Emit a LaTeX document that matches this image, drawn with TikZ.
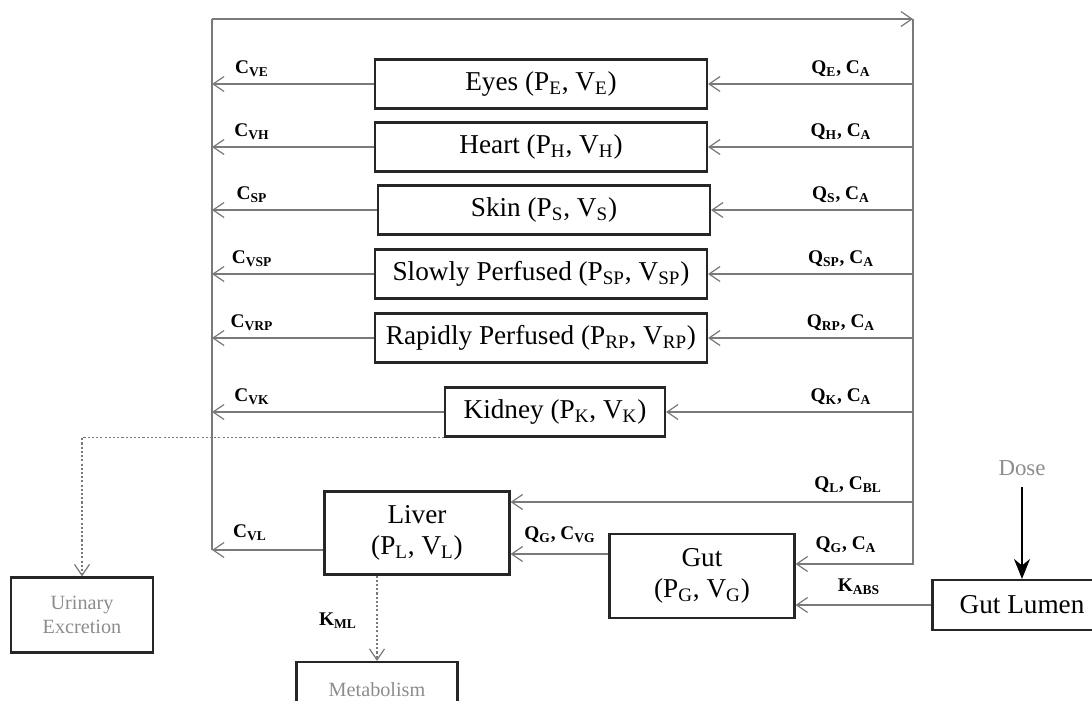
\documentclass[tikz,border=0pt]{standalone}
\usepackage{fontspec}
\setmainfont{Liberation Serif}
\usepackage{tikz}
\usetikzlibrary{calc,arrows.meta,positioning}
\definecolor{flowg}{HTML}{7A7A7A}
\definecolor{boxk}{HTML}{262626}
\definecolor{textg}{HTML}{8C8C8C}
\newcommand{\sbs}[1]{\textsubscript{#1}}
\tikzset{
  ar/.style={-{Straight Barb[length=2.2mm,width=3mm]},line width=0.7pt,flowg},
  dotflow/.style={ar,dash pattern=on 1.2pt off 1.2pt},
  organ/.style={draw=boxk,line width=1.2pt,minimum height=0.98cm,inner sep=2pt,align=center,font=\fontsize{15.5}{17.5}\selectfont},
  sink/.style={organ,text=textg,font=\fontsize{11.5}{13.5}\selectfont},
  lab/.style={font=\fontsize{11}{12}\selectfont\bfseries,inner sep=1pt}
}
\begin{document}
\begin{tikzpicture}[x=0.02cm,y=-0.02cm]
\useasboundingbox (0,0) rectangle (1092,700);
% compartments
\node[organ,minimum width=6.64cm] (eyes) at (541,84) {Eyes (P\sbs{E}, V\sbs{E})};
\node[organ,minimum width=6.64cm] (heart) at (541,147) {Heart (P\sbs{H}, V\sbs{H})};
\node[organ,minimum width=6.64cm] (skin) at (544,210) {Skin (P\sbs{S}, V\sbs{S})};
\node[organ,minimum width=6.64cm] (slow) at (541,274) {Slowly Perfused (P\sbs{SP}, V\sbs{SP})};
\node[organ,minimum width=6.64cm] (rapid) at (541,338) {Rapidly Perfused (P\sbs{RP}, V\sbs{RP})};
\node[organ,minimum width=4.4cm] (kidney) at (555,412) {Kidney (P\sbs{K}, V\sbs{K})};
\node[organ,minimum width=3.7cm,minimum height=1.66cm] (liver) at (417,533) {Liver\\(P\sbs{L}, V\sbs{L})};
\node[organ,minimum width=3.7cm,minimum height=1.68cm] (gut) at (702,576) {Gut\\(P\sbs{G}, V\sbs{G})};
\node[organ,minimum width=3.58cm,minimum height=1cm] (lumen) at (1022,605) {Gut Lumen};
\node[sink,minimum width=2.84cm,minimum height=1.5cm] (urine) at (82,615) {Urinary\\Excretion};
\node[sink,minimum width=3.22cm,minimum height=1.12cm] (metab) at (377,690) {Metabolism};
\node[text=textg,font=\fontsize{13}{15}\selectfont] (dose) at (1022,468) {Dose};
% blood lines
\coordinate (vtop) at (212,19);
\coordinate (vbot) at (212,550);
\coordinate (atop) at (913,19);
\coordinate (abot) at (913,564);
\draw[line width=0.7pt,flowg] (vbot) -- (vtop);
\draw[ar] (vtop) -- (atop);
\draw[ar] (atop) -- (abot) -- (abot -| gut.east);
\node[lab] (qga) at (846,545) {Q\sbs{G}, C\sbs{A}};
\foreach \o/\qin/\cout in {eyes/E/VE,heart/H/VH,skin/S/SP,slow/SP/VSP,rapid/RP/VRP,kidney/K/VK}{
  \draw[ar] (\o.east -| atop) -- (\o.east);
  \draw[ar] (\o.west) -- (\o.west -| vtop);
  \node[lab] (q\o) at ($(\o.east -| atop)+(-72,-15)$) {Q\sbs{\qin}, C\sbs{A}};
  \node[lab] (c\o) at ($(\o.west -| vtop)+(40,-15)$) {C\sbs{\cout}};
}
% liver and gut
\coordinate (qlin) at (913,502);
\coordinate (qgv) at (610,554);
\draw[ar] (qlin) -- (liver.east |- qlin);
\node[lab] (qlbl) at (848,485) {Q\sbs{L}, C\sbs{BL}};
\draw[ar] (liver.west |- vbot) -- (vbot);
\node[lab] (cvl) at (250,533) {C\sbs{VL}};
\draw[ar] (gut.west |- qgv) -- (liver.east |- qgv);
\node[lab] (qgvg) at (560,535) {Q\sbs{G}, C\sbs{VG}};
\draw[ar] (lumen.west) -- (lumen.west -| gut.east);
\node[lab] (kabs) at (859,587) {K\sbs{ABS}};
\draw[-{Stealth[length=4mm,width=3.2mm]},line width=1.2pt,black,shorten <=3pt] (dose) -- (lumen);
% elimination
\draw[dotflow] (kidney.south west) -| (urine.north);
\draw[dotflow] (liver.south -| metab.north) -- (metab.north);
\node[lab] (kml) at (338,621) {K\sbs{ML}};
\end{tikzpicture}
\end{document}
